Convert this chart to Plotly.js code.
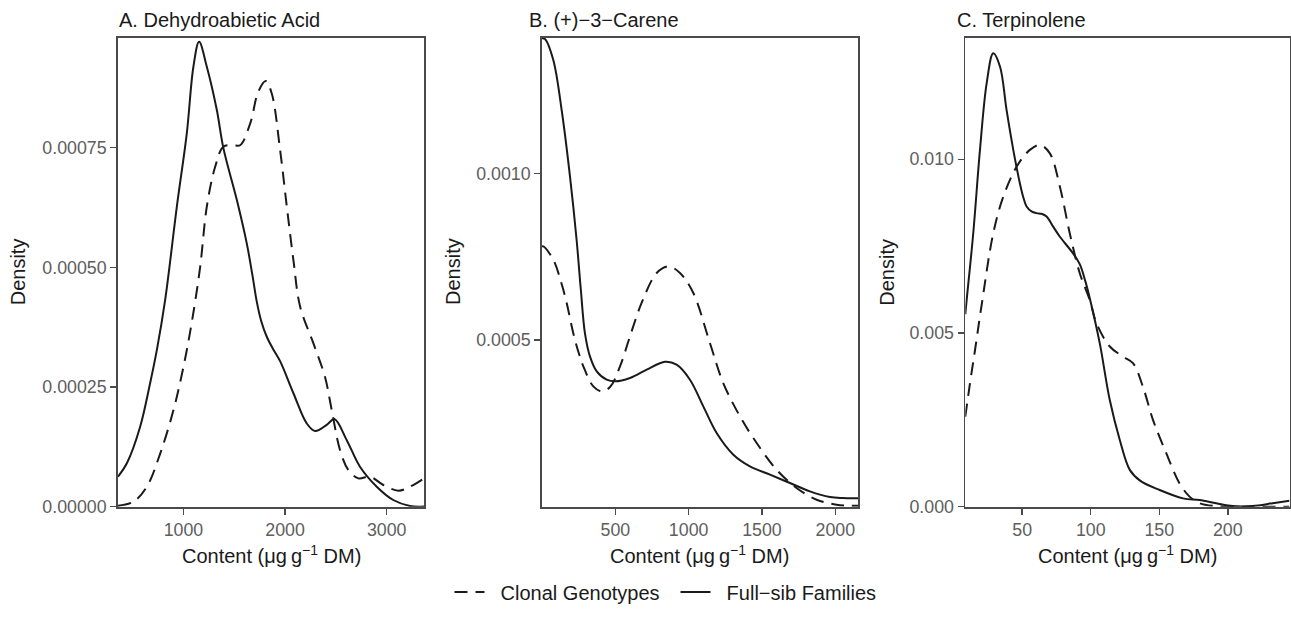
<!DOCTYPE html>
<html><head><meta charset="utf-8">
<script src="https://cdn.plot.ly/plotly-3.0.1.min.js"></script>
<style>html,body{margin:0;padding:0;background:#fff;} #chart{width:1291px;height:622px;}</style>
</head><body><div id="chart"></div>
<script>
// ---- labels ----
const seriesNames = ["Clonal Genotypes", "Full\u2212sib Families"];
const panelTitles = ["A. Dehydroabietic Acid", "B. (+)\u22123\u2212Carene", "C. Terpinolene"];
const xTitle = "Content (\u03bcg\u2009g<sup>\u22121</sup> DM)";
const yTitle = "Density";

// ---- Panel A: Dehydroabietic Acid ----
const aClonalX = [356, 508, 640, 771, 902, 1000, 1082, 1164, 1230, 1312, 1393, 1492, 1557, 1656, 1737, 1810, 1869, 1951, 2017, 2082, 2148, 2279, 2393, 2459, 2541, 2623, 2721, 2836, 2967, 3114, 3229, 3367];
const aClonalY = [0.000002, 0.0000104, 0.0000418, 0.000111, 0.000202, 0.000292, 0.000385, 0.0005, 0.000627, 0.00071, 0.000752, 0.000755, 0.000755, 0.0008, 0.000867, 0.000889, 0.000863, 0.000745, 0.000627, 0.000515, 0.000418, 0.000341, 0.000271, 0.000202, 0.000118, 0.0000766, 0.0000592, 0.0000627, 0.0000453, 0.0000334, 0.0000418, 0.0000592];
const aFullX = [356, 443, 574, 672, 738, 820, 935, 1033, 1098, 1154, 1230, 1328, 1393, 1525, 1623, 1680, 1720, 1765, 1820, 1880, 1951, 2082, 2213, 2295, 2410, 2485, 2607, 2737, 2902, 3065, 3229, 3367];
const aFullY = [0.0000627, 0.0000906, 0.000167, 0.000258, 0.000327, 0.000432, 0.000627, 0.00078, 0.000919, 0.000971, 0.000919, 0.000829, 0.000749, 0.000641, 0.00055, 0.000482, 0.00043, 0.000388, 0.000355, 0.00033, 0.000304, 0.000237, 0.000174, 0.000158, 0.000171, 0.000183, 0.000139, 0.0000835, 0.0000418, 0.000014, 0.0000015, 0.0000002];

// ---- Panel B: (+)-3-Carene ----
const bClonalX = [0, 9, 77, 134, 168, 213, 250, 282, 350, 407, 464, 532, 600, 680, 782, 861, 941, 1032, 1145, 1236, 1350, 1464, 1600, 1736, 1873, 2009, 2155];
const bClonalY = [0.00078, 0.000781, 0.000741, 0.000668, 0.000612, 0.000521, 0.000462, 0.000421, 0.000361, 0.000346, 0.000359, 0.000421, 0.000511, 0.000612, 0.000701, 0.000721, 0.000701, 0.000641, 0.000491, 0.000371, 0.000271, 0.000191, 0.000111, 0.0000561, 0.000021, 0.000006, 0.000003];
const bFullX = [0, 20, 77, 134, 191, 236, 265, 293, 327, 373, 441, 500, 600, 714, 839, 918, 1009, 1100, 1191, 1305, 1418, 1555, 1691, 1827, 1964, 2050, 2155];
const bFullY = [0.001405, 0.001403, 0.00134, 0.00119, 0.00099, 0.0008, 0.00065, 0.00052, 0.000451, 0.000406, 0.000381, 0.000376, 0.000386, 0.000411, 0.000435, 0.000426, 0.000381, 0.000301, 0.000221, 0.000156, 0.000121, 0.000096, 0.0000711, 0.0000459, 0.0000291, 0.000026, 0.0000255];

// ---- Panel C: Terpinolene ----
const cClonalX = [8.5, 11.9, 15.6, 20.4, 28.9, 36.2, 46, 55.6, 62.9, 70.2, 77.5, 84.7, 92, 99.3, 104.2, 113.9, 123.5, 130.8, 138.1, 145.4, 155.1, 164.8, 172.1, 179.4, 190, 210, 245];
const cClonalY = [0.00259, 0.00355, 0.00451, 0.0058, 0.00787, 0.00892, 0.00979, 0.01027, 0.01041, 0.01017, 0.00921, 0.00787, 0.00672, 0.00595, 0.00528, 0.00461, 0.00432, 0.00413, 0.00345, 0.0025, 0.00154, 0.00067, 0.00029, 0.0001, 0.00002, 0, 0];
const cFullX = [8.5, 9.5, 14.3, 19.2, 24.1, 28.9, 33.8, 38.6, 43.5, 48.3, 50.7, 53.2, 56.8, 60.5, 64.1, 67.8, 72.6, 77.5, 87.1, 92, 96, 99.3, 106.6, 113.9, 121.2, 128.5, 136, 150.3, 167.3, 179.4, 191.6, 203.7, 218, 232.8, 245];
const cFullY = [0.00554, 0.00595, 0.00787, 0.01027, 0.01219, 0.01305, 0.01267, 0.01142, 0.01027, 0.00931, 0.00892, 0.00864, 0.0085, 0.00845, 0.00843, 0.00835, 0.00806, 0.00777, 0.00729, 0.00698, 0.0065, 0.006, 0.0047, 0.00307, 0.00192, 0.00106, 0.00075, 0.00048, 0.00024, 0.00019, 0.0001, 0.00002, 0.00002, 0.0001, 0.00017];

// ---- ticks ----
const aXTicks = [1000, 2000, 3000];
const aYTicks = [0, 0.00025, 0.0005, 0.00075];
const aYTickText = ["0.00000", "0.00025", "0.00050", "0.00075"];
const bXTicks = [500, 1000, 1500, 2000];
const bYTicks = [0.0005, 0.001];
const bYTickText = ["0.0005", "0.0010"];
const cXTicks = [50, 100, 150, 200];
const cYTicks = [0, 0.005, 0.01];
const cYTickText = ["0.000", "0.005", "0.010"];

// ---- layout geometry (pixels) ----
const W = 1291, H = 622;
const FONT = "'Liberation Sans', Arial, Helvetica, sans-serif";
const INK = "#1a1a1a";
const panelsPx = [[118, 424], [542, 858], [965.3, 1289.5]];
const topPx = 38, botPx = 506.7;
const xRanges = [[356, 3367], [0, 2155], [8.5, 245]];
const yRanges = [[0, 0.000979], [0, 0.001406], [0, 0.01349]];
const titleXPx = [117, 527, 955];
const yTitleXPx = [18.3, 453, 886.7];

const xTickSets = [aXTicks, bXTicks, cXTicks];
const yTickSets = [aYTicks, bYTicks, cYTicks];
const yTickTexts = [aYTickText, bYTickText, cYTickText];
const clonal = [[aClonalX, aClonalY], [bClonalX, bClonalY], [cClonalX, cClonalY]];
const full = [[aFullX, aFullY], [bFullX, bFullY], [cFullX, cFullY]];

const NB = "\u00a0\u00a0";
const traces = [];
const layout = {
  width: W, height: H, autosize: false,
  margin: {l: 0, r: 0, t: 0, b: 0, pad: 0},
  paper_bgcolor: "#ffffff", plot_bgcolor: "#ffffff",
  font: {family: FONT, color: INK},
  showlegend: true,
  legend: {
    orientation: "h", x: 675.5 / W, xanchor: "center", y: 1 - 592 / H, yanchor: "middle",
    font: {family: FONT, size: 20, color: INK}, bgcolor: "rgba(0,0,0,0)",
    entrywidth: 181, entrywidthmode: "pixels",
    traceorder: "normal"
  },
  annotations: [],
};

for (let i = 0; i < 3; i++) {
  const sfx = i === 0 ? "" : String(i + 1);
  const xa = "x" + sfx, ya = "y" + sfx;
  traces.push({
    type: "scatter", mode: "lines", x: clonal[i][0], y: clonal[i][1],
    xaxis: xa, yaxis: ya, name: NB + seriesNames[0], legendgroup: "c", showlegend: i === 0,
    line: {color: INK, width: 2, dash: "13px,8px", shape: "spline", smoothing: 1}, hoverinfo: "skip"
  });
  traces.push({
    type: "scatter", mode: "lines", x: full[i][0], y: full[i][1],
    xaxis: xa, yaxis: ya, name: NB + seriesNames[1], legendgroup: "f", showlegend: i === 0,
    line: {color: INK, width: 2, shape: "spline", smoothing: 1}, hoverinfo: "skip"
  });
  const axBase = {
    showgrid: false, zeroline: false, showline: true, mirror: true,
    linecolor: "#4a4a4a", linewidth: 1.8, ticks: "outside", ticklen: 6, tickwidth: 1.5,
    tickcolor: "#4a4a4a", tickfont: {family: FONT, size: 17.8, color: "#5e5e5e"},
    automargin: false, fixedrange: true
  };
  layout["xaxis" + sfx] = Object.assign({}, axBase, {
    domain: [panelsPx[i][0] / W, panelsPx[i][1] / W], range: xRanges[i],
    tickmode: "array", tickvals: xTickSets[i], ticktext: xTickSets[i].map(String),
    anchor: ya
  });
  layout["yaxis" + sfx] = Object.assign({}, axBase, {
    domain: [1 - botPx / H, 1 - topPx / H], range: yRanges[i],
    tickmode: "array", tickvals: yTickSets[i], ticktext: yTickTexts[i],
    anchor: xa
  });
  layout.annotations.push({
    xref: "paper", yref: "paper", x: titleXPx[i] / W, y: 1 - 20.5 / H,
    xanchor: "left", yanchor: "middle", showarrow: false, text: panelTitles[i],
    font: {family: FONT, size: 20, color: INK}
  });
  layout.annotations.push({
    xref: "paper", yref: "paper", x: (panelsPx[i][0] + panelsPx[i][1]) / 2 / W, y: 1 - 554 / H,
    xanchor: "center", yanchor: "middle", showarrow: false, text: xTitle,
    font: {family: FONT, size: 20, color: INK}
  });
  layout.annotations.push({
    xref: "paper", yref: "paper", x: yTitleXPx[i] / W, y: 1 - 272 / H,
    xanchor: "center", yanchor: "middle", showarrow: false, text: yTitle, textangle: -90,
    font: {family: FONT, size: 20, color: INK}
  });
}

Plotly.newPlot("chart", traces, layout, {staticPlot: true, displayModeBar: false});
</script>
</body></html>
